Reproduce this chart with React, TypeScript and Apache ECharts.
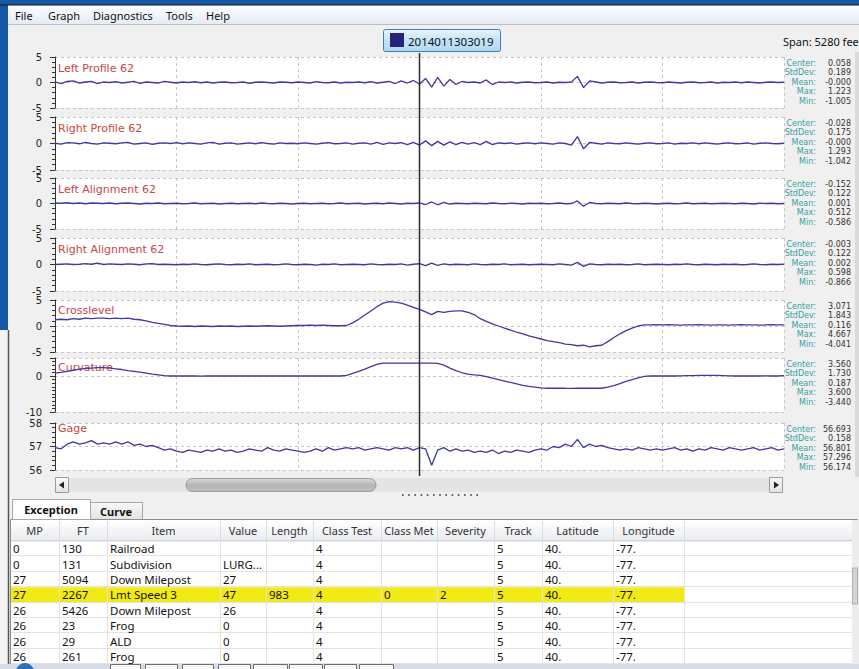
import React, { useEffect, useRef } from "react";
import * as echarts from "echarts";

// ---------------- DATA ----------------
const panelNames = ["Left Profile 62", "Right Profile 62", "Left Alignment 62", "Right Alignment 62", "Crosslevel", "Curvature", "Gage"];

const leftProfile = [
  0.1, -0.2, 0.2, 0.3, -0.1, 0.1, 0.2, -0.2, 0.1, 0.0,
  0.15, -0.1, 0.05, 0.2, -0.15, 0.1, 0.0, -0.1, 0.2, 0.05,
  -0.1, 0.1, 0.0, 0.15, -0.05, 0.1, -0.1, 0.05, 0.1, -0.05,
  0.0, 0.1, -0.15, 0.05, 0.1, 0.0, -0.1, 0.1, 0.05, -0.05,
  0.1, 0.0, -0.1, 0.15, 0.0, -0.05, 0.1, -0.1, 0.05, 0.0,
  0.1, -0.05, 0.15, -0.1, 0.05, 0.2, -0.2, 0.3, -0.1, 0.4,
  -0.3, 0.8, -0.9, 1.0, -0.7, 0.6, -0.4, 0.2, 0.0, 0.1,
  -0.1, 0.5, -0.4, 0.1, 0.0, 0.1, -0.1, 0.05, 0.1, -0.05,
  0.0, 0.1, -0.1, 0.05, 0.0, 0.1, 1.2, -1.0, 0.3, 0.1,
  -0.1, 0.05, 0.1, -0.05, 0.0, 0.1, -0.1, 0.05, 0.1, 0.0,
  -0.05, 0.1, 0.0, -0.1, 0.05, 0.1, -0.05, 0.0, 0.1, -0.1,
  0.05, 0.0, 0.1, -0.05, 0.1, 0.0, -0.1, 0.05, 0.1, 0.0,
  0.05,
];
const rightProfile = [
  0.05, -0.1, 0.15, 0.1, -0.05, 0.2, 0.0, -0.1, 0.1, 0.05,
  -0.05, 0.1, 0.2, -0.1, 0.0, 0.1, -0.15, 0.05, 0.1, 0.0,
  0.15, -0.05, 0.1, 0.0, -0.1, 0.1, 0.2, -0.1, 0.05, 0.1,
  -0.1, 0.0, 0.1, -0.05, 0.15, 0.0, -0.1, 0.1, 0.0, 0.05,
  -0.05, 0.1, 0.0, -0.1, 0.05, 0.15, -0.05, 0.0, 0.1, -0.1,
  0.05, 0.1, -0.1, 0.2, -0.15, 0.1, 0.0, 0.15, -0.2, 0.2,
  -0.3, 0.5, -0.4, 0.4, -0.3, 0.3, -0.2, 0.2, -0.1, 0.15,
  -0.2, 0.4, -0.2, 0.1, 0.0, 0.1, -0.1, 0.05, 0.1, -0.05,
  0.1, 0.0, -0.1, 0.1, 0.0, -0.3, 1.3, -1.0, 0.2, 0.05,
  -0.1, 0.1, 0.0, -0.05, 0.1, 0.0, -0.1, 0.05, 0.1, -0.05,
  0.0, 0.1, -0.1, 0.05, 0.0, 0.1, -0.05, 0.1, 0.0, -0.1,
  0.05, 0.1, -0.05, 0.0, 0.1, -0.1, 0.05, 0.1, 0.0, -0.05,
  0.05,
];
const leftAlignment = [
  0.1, 0.05, 0.15, 0.0, 0.1, -0.05, 0.1, 0.05, 0.0, 0.1,
  -0.05, 0.05, 0.1, 0.0, -0.1, 0.05, 0.0, 0.1, -0.05, 0.0,
  0.05, -0.05, 0.0, 0.1, -0.05, 0.0, 0.05, -0.1, 0.0, 0.05,
  -0.05, 0.0, 0.05, -0.05, 0.1, 0.0, -0.05, 0.05, 0.0, -0.1,
  0.0, 0.05, -0.05, 0.0, 0.05, -0.05, 0.0, 0.1, -0.05, 0.0,
  0.05, -0.1, 0.0, 0.05, -0.05, 0.1, 0.0, -0.1, 0.05, 0.0,
  0.1, -0.2, 0.3, -0.25, 0.2, -0.1, 0.05, 0.0, -0.05, 0.05,
  0.0, -0.05, 0.1, 0.0, -0.05, 0.05, 0.0, -0.1, 0.05, 0.0,
  0.05, -0.05, 0.0, 0.1, -0.05, 0.0, 0.5, -0.55, 0.2, 0.0,
  -0.05, 0.05, 0.0, -0.05, 0.1, 0.0, -0.05, 0.05, 0.0, -0.1,
  0.0, 0.05, -0.05, 0.0, 0.1, -0.05, 0.0, 0.05, -0.05, 0.0,
  0.05, 0.0, -0.05, 0.05, 0.0, -0.1, 0.05, 0.0, 0.05, -0.05,
  0.0,
];
const rightAlignment = [
  0.0, 0.05, 0.1, 0.0, 0.05, 0.15, 0.05, 0.25, 0.0, 0.1,
  0.05, 0.0, 0.1, 0.05, -0.05, 0.1, 0.15, 0.0, 0.05, 0.0,
  -0.05, 0.05, 0.0, 0.1, 0.0, -0.05, 0.05, 0.1, 0.0, -0.05,
  0.05, 0.0, 0.1, -0.05, 0.0, 0.05, -0.05, 0.0, 0.1, 0.0,
  -0.05, 0.05, 0.0, -0.1, 0.05, 0.0, 0.1, -0.05, 0.0, 0.05,
  0.0, -0.05, 0.1, 0.0, -0.05, 0.05, 0.0, 0.1, -0.1, 0.05,
  0.15, -0.2, 0.25, -0.15, 0.1, -0.05, 0.05, 0.0, -0.05, 0.1,
  0.0, -0.05, 0.05, 0.0, 0.1, -0.05, 0.0, 0.05, -0.05, 0.0,
  0.05, 0.0, -0.05, 0.1, 0.0, -0.1, 0.4, -0.35, 0.1, 0.0,
  -0.05, 0.05, 0.0, 0.05, -0.05, 0.0, 0.1, -0.05, 0.0, 0.05,
  0.0, -0.05, 0.05, 0.0, 0.1, 0.0, -0.05, 0.05, 0.0, -0.05,
  0.05, 0.0, 0.05, -0.05, 0.0, 0.1, 0.0, -0.05, 0.05, 0.0,
  0.05,
];
const crosslevel = [
  1.2, 1.3, 1.2, 1.4, 1.3, 1.5, 1.4, 1.5, 1.5, 1.4,
  1.5, 1.4, 1.5, 1.3, 1.2, 1.0, 0.7, 0.5, 0.3, 0.1,
  0.0, -0.05, 0.0, -0.1, 0.0, -0.05, -0.1, 0.0, -0.05, 0.0,
  -0.1, -0.05, 0.0, -0.05, 0.0, 0.05, 0.0, -0.05, 0.0, 0.05,
  0.1, 0.1, 0.15, 0.1, 0.15, 0.1, 0.05, 0.05, 0.1, 0.6,
  1.3, 2.1, 2.9, 3.7, 4.4, 4.7, 4.6, 4.4, 4.0, 3.6,
  3.2, 2.7, 2.2, 2.8, 2.6, 2.8, 2.9, 2.9, 2.6, 2.2,
  1.4, 0.9, 0.4, 0.0, -0.4, -0.8, -1.2, -1.5, -1.9, -2.2,
  -2.5, -2.8, -3.0, -3.2, -3.5, -3.6, -3.8, -3.7, -4.0, -3.8,
  -3.7, -3.0, -2.2, -1.5, -0.9, -0.4, 0.0, 0.2, 0.2, 0.25,
  0.2, 0.25, 0.2, 0.15, 0.2, 0.2, 0.25, 0.2, 0.15, 0.2,
  0.2, 0.15, 0.2, 0.25, 0.2, 0.2, 0.15, 0.2, 0.25, 0.2,
  0.2,
];
const curvature = [
  0.8, 1.0, 1.3, 1.6, 1.9, 2.1, 2.2, 2.3, 2.3, 2.2,
  2.0, 1.8, 1.5, 1.3, 1.1, 0.8, 0.5, 0.3, 0.1, 0.0,
  0.0, 0.05, 0.0, 0.0, -0.05, 0.0, 0.0, 0.05, 0.0, 0.0,
  0.0, 0.05, 0.0, 0.0, 0.0, 0.05, 0.0, 0.0, 0.0, 0.0,
  0.0, 0.05, 0.0, 0.0, 0.0, 0.0, 0.05, 0.0, 0.2, 0.7,
  1.3, 1.9, 2.6, 3.2, 3.6, 3.6, 3.55, 3.6, 3.6, 3.6,
  3.6, 3.6, 3.6, 3.5, 3.0, 2.2, 1.5, 0.9, 0.5, 0.3,
  0.2, -0.2, -0.6, -1.0, -1.4, -1.8, -2.2, -2.6, -2.9, -3.1,
  -3.3, -3.4, -3.4, -3.35, -3.4, -3.44, -3.4, -3.4, -3.35, -3.4,
  -3.4, -3.1, -2.7, -2.1, -1.5, -1.0, -0.5, -0.1, 0.0, 0.0,
  0.0, 0.05, 0.0, 0.05, 0.1, 0.1, 0.15, 0.2, 0.2, 0.15,
  0.1, 0.05, 0.0, 0.0, 0.05, 0.0, 0.0, 0.05, 0.0, 0.0,
  0.1,
];
const gage = [
  56.95, 56.9, 57.1, 57.2, 57.1, 57.15, 57.25, 57.1, 57.15, 57.1,
  57.2, 57.1, 57.2, 57.05, 57.1, 57.0, 57.05, 56.95, 56.85, 56.9,
  56.8, 56.75, 56.85, 56.8, 56.75, 56.85, 56.8, 56.9, 56.8, 56.85,
  56.75, 56.8, 56.9, 56.85, 56.8, 56.95, 56.85, 56.8, 56.9, 56.85,
  56.8, 56.75, 56.8, 56.9, 56.8, 56.95, 56.85, 56.9, 56.95, 56.9,
  56.95, 56.85, 56.9, 56.95, 56.9, 56.85, 56.95, 56.9, 56.95, 56.85,
  56.95, 56.9, 56.2, 56.85, 56.95, 56.8, 56.9, 56.8, 56.85, 56.75,
  56.8, 56.75, 56.85, 56.7, 56.8, 56.75, 56.85, 56.8, 56.75, 56.85,
  56.9, 56.85, 57.0, 56.95, 57.1, 57.0, 57.3, 56.95, 57.1, 57.0,
  57.05, 56.95, 56.9, 56.85, 56.9, 56.85, 56.95, 56.9, 56.85, 56.9,
  56.85, 56.9, 56.95, 56.85, 56.9, 56.8, 56.9, 56.85, 56.95, 56.9,
  56.85, 56.95, 56.9, 56.85, 56.9, 56.95, 56.85, 56.9, 56.95, 56.85,
  56.9,
];

const yMins = [-5, -5, -5, -5, -5, -10, 56];
const yMaxs = [5, 5, 5, 5, 5, 5, 58];
const yIntervals = [5, 5, 5, 5, 5, 10, 1];
const yMinorSplits = [5, 5, 5, 5, 5, 10, 5];
const hiddenMaxLabel = [false, false, false, false, false, true, false];
const xMin = 0;
const xMax = 120;
const xInterval = 20;
const cursorPosition = 60;

const statLabels = ["Center:", "StdDev:", "Mean:", "Max:", "Min:"];
const leftProfileStats = ["0.058", "0.189", "-0.000", "1.223", "-1.005"];
const rightProfileStats = ["-0.028", "0.175", "-0.000", "1.293", "-1.042"];
const leftAlignmentStats = ["-0.152", "0.122", "0.001", "0.512", "-0.586"];
const rightAlignmentStats = ["-0.003", "0.122", "0.002", "0.598", "-0.866"];
const crosslevelStats = ["3.071", "1.843", "0.116", "4.667", "-4.041"];
const curvatureStats = ["3.560", "1.730", "0.187", "3.600", "-3.440"];
const gageStats = ["56.693", "0.158", "56.801", "57.296", "56.174"];

const menuItems = ["File", "Graph", "Diagnostics", "Tools", "Help"];
const recordId = "2014011303019";
const spanText = "Span: 5280 feet";
const tabNames = ["Exception", "Curve"];

const tableHeaders = ["MP", "FT", "Item", "Value", "Length", "Class Test", "Class Met", "Severity", "Track", "Latitude", "Longitude"];
const colMP = ["0", "0", "27", "27", "26", "26", "26", "26"];
const colFT = ["130", "131", "5094", "2267", "5426", "23", "29", "261"];
const colItem = ["Railroad", "Subdivision", "Down Milepost", "Lmt Speed 3", "Down Milepost", "Frog", "ALD", "Frog"];
const colValue = ["", "LURG...", "27", "47", "26", "0", "0", "0"];
const colLength = ["", "", "", "983", "", "", "", ""];
const colClassTest = ["4", "4", "4", "4", "4", "4", "4", "4"];
const colClassMet = ["", "", "", "0", "", "", "", ""];
const colSeverity = ["", "", "", "2", "", "", "", ""];
const colTrack = ["5", "5", "5", "5", "5", "5", "5", "5"];
const colLatitude = ["40.", "40.", "40.", "40.", "40.", "40.", "40.", "40."];
const colLongitude = ["-77.", "-77.", "-77.", "-77.", "-77.", "-77.", "-77.", "-77."];
const highlightedRow = 3;

// ---------------- LAYOUT ----------------
const W = 859;
const H = 669;
const plotLeft = 55;
const plotRight = 784;
const panelTops = [57, 117, 178, 238, 300, 358, 423];
const panelHeights = [51, 53, 51, 53, 52, 54, 47];
const labelOffsets = [11, 11, 11, 11, 10, 9, 5];
const menuX = [15, 48, 93, 166, 206];
const colEdges = [10, 59, 107, 220, 266, 313, 381, 437, 494, 542, 613, 684];
const headerTop = 519;
const headerH = 22;
const rowTop0 = 541;
const rowH = 15.4;

const lineColor = "#3a3aa8";
const blue = "#1559a6";

function txt(text: string, x: number, y: number, o: any = {}) {
  const align = o.align || "left";
  return {
    type: "text",
    x,
    y,
    z: o.z ?? 20,
    silent: true,
    style: {
      text,
      fill: o.color || "#1a1a1a",
      fontSize: o.size || 11,
      fontFamily: o.family || "Noto Sans",
      fontWeight: o.weight || "normal",
      align,
      textAlign: align,
      verticalAlign: "middle",
      textVerticalAlign: "middle",
    },
  };
}
function rect(x: number, y: number, w: number, h: number, style: any, z = 10, r = 0) {
  return { type: "rect", z, silent: true, shape: { x, y, width: w, height: h, r }, style };
}
function line(x1: number, y1: number, x2: number, y2: number, style: any, z = 11) {
  return { type: "line", z, silent: true, shape: { x1, y1, x2, y2 }, style };
}
const vgrad = (stops: string[]) =>
  new echarts.graphic.LinearGradient(0, 0, 0, 1, stops.map((c, i) => ({ offset: i / (stops.length - 1), color: c })));

function buildGraphics() {
  const G: any[] = [];
  // desktop blue & window borders
  G.push(rect(0, 0, W, 5, { fill: blue }));
  G.push(line(0, 5, W, 5, { stroke: "#1b1b1b", lineWidth: 1 }));
  G.push(rect(0, 0, 8, 330, { fill: blue }));
  G.push(rect(0, 330, 8, H - 330, { fill: "#f4f4f4" }));
  G.push(line(8.5, 330, 8.5, H, { stroke: "#555", lineWidth: 1.5 }));
  // menu bar
  G.push(rect(8, 6, W - 8, 18, { fill: vgrad(["#fbfcfe", "#e6ebf4"]) }));
  G.push(line(8, 24.5, W, 24.5, { stroke: "#b9c0cc", lineWidth: 1 }));
  menuItems.forEach((m, i) => G.push(txt(m, menuX[i], 15, { size: 11, color: "#111" })));
  // record button
  G.push(rect(383.5, 29.5, 117, 22, { fill: vgrad(["#e8f5fd", "#c3e3f7", "#b0d8f2"]), stroke: "#3f7fb3", lineWidth: 1 }, 10, 2));
  G.push(rect(390, 33, 14, 14, { fill: "#25247a" }, 11));
  G.push(txt(recordId, 408, 41, { size: 11.5, color: "#111" }));
  G.push(txt(spanText, 783, 41, { size: 11, color: "#111" }));
  // right scroll strip
  G.push(rect(855, 52, 4, 425, { fill: "#dadada" }));
  // panel labels and stats
  const allStats = [leftProfileStats, rightProfileStats, leftAlignmentStats, rightAlignmentStats, crosslevelStats, curvatureStats, gageStats];
  panelNames.forEach((n, i) => {
    G.push(txt(n, 58, panelTops[i] + labelOffsets[i], { size: 11, family: "DejaVu Sans", color: "#c84646", z: 1 }));
    statLabels.forEach((l, k) => {
      const y = panelTops[i] + 6 + k * 9.5;
      G.push(txt(l, 816, y, { size: 8, family: "DejaVu Sans", color: "#35a0a0", align: "right" }));
      G.push(txt(allStats[i][k], 851, y, { size: 8, family: "DejaVu Sans", color: "#333", align: "right" }));
    });
  });
  // horizontal scrollbar
  G.push(rect(69, 478, 700, 14, { fill: "#e4e4e4" }));
  G.push(rect(55.5, 477.5, 13, 15, { fill: vgrad(["#fafafa", "#e2e2e2"]), stroke: "#9c9c9c", lineWidth: 1 }, 12));
  G.push({ type: "polygon", z: 13, silent: true, shape: { points: [[59, 485], [64, 481.5], [64, 488.5]] }, style: { fill: "#222" } });
  G.push(rect(769.5, 477.5, 13, 15, { fill: vgrad(["#fafafa", "#e2e2e2"]), stroke: "#9c9c9c", lineWidth: 1 }, 12));
  G.push({ type: "polygon", z: 13, silent: true, shape: { points: [[779, 485], [774, 481.5], [774, 488.5]] }, style: { fill: "#222" } });
  G.push(rect(186, 478.5, 190, 13, { fill: vgrad(["#dcdcdc", "#b4b4b4", "#c2c2c2"]), stroke: "#9a9a9a", lineWidth: 1 }, 12, 6.5));
  G.push(line(402, 495, 479, 495, { stroke: "#333", lineWidth: 1.6, lineDash: [1.6, 4.6] }));
  // tabs
  G.push(rect(90.5, 502.5, 52, 17, { fill: vgrad(["#f8f8f8", "#e3e3e3"]), stroke: "#a8a8a8", lineWidth: 1 }));
  G.push(rect(12.5, 499.5, 78, 20, { fill: "#ffffff", stroke: "#a8a8a8", lineWidth: 1 }, 11));
  G.push(txt(tabNames[0], 51, 509, { size: 11, weight: "bold", align: "center", color: "#111" }));
  G.push(txt(tabNames[1], 116, 511, { size: 11, weight: "bold", align: "center", color: "#111" }));
  // table
  G.push(rect(10.5, headerTop + 0.5, 847, H - headerTop, { fill: "#ffffff", stroke: "#8e8e8e", lineWidth: 1 }));
  G.push(rect(11, headerTop + 1, 841, headerH, { fill: vgrad(["#ffffff", "#f3f4f6", "#e9ebee"]) }, 11));
  G.push(line(11, rowTop0 - 0.5, 852, rowTop0 - 0.5, { stroke: "#d2d4d8", lineWidth: 1 }, 12));
  const cols = [colMP, colFT, colItem, colValue, colLength, colClassTest, colClassMet, colSeverity, colTrack, colLatitude, colLongitude];
  G.push(rect(colEdges[0] + 1, rowTop0 + highlightedRow * rowH, colEdges[colEdges.length - 1] - colEdges[0] - 1, rowH, { fill: "#f2ea14" }, 11));
  for (let r = 1; r <= colMP.length; r++) {
    const y = Math.round(rowTop0 + r * rowH) - 0.5;
    G.push(line(11, y, 852, y, { stroke: "#e3e3e3", lineWidth: 1 }, 12));
  }
  colEdges.forEach((x, i) => {
    if (i === 0) return;
    G.push(line(x + 0.5, headerTop + 2, x + 0.5, rowTop0, { stroke: "#d9dbdf", lineWidth: 1 }, 12));
    G.push(line(x + 0.5, rowTop0, x + 0.5, H, { stroke: "#e3e3e3", lineWidth: 1 }, 12));
  });
  tableHeaders.forEach((h, i) => {
    G.push(txt(h, (colEdges[i] + colEdges[i + 1]) / 2, headerTop + 11.5, { size: 11, color: "#333", align: "center" }));
  });
  cols.forEach((col, c) => {
    col.forEach((v, r) => {
      if (!v) return;
      G.push(txt(v, colEdges[c] + 3, rowTop0 + r * rowH + rowH / 2, { size: 11.5, color: "#111" }));
    });
  });
  // table vertical scrollbar
  G.push(rect(852, headerTop + 1, 6, H - headerTop, { fill: "#ececec" }, 12));
  G.push(rect(852.5, 568, 5, 36, { fill: "#d4d4d4", stroke: "#b0b0b0", lineWidth: 1 }, 13));
  // taskbar strip
  G.push(rect(0, 664, W, 5, { fill: "#d6dce6" }, 14));
  [[110, 140], [145, 177], [182, 213], [218, 250], [253, 287], [289, 322], [324, 356], [359, 393]].forEach(([a, b]) =>
    G.push(rect(a + 0.5, 664.5, b - a, 8, { fill: "#f6f6f6", stroke: "#6d6d6d", lineWidth: 1 }, 15))
  );
  G.push({ type: "circle", z: 15, silent: true, shape: { cx: 25, cy: 672, r: 9 }, style: { fill: "#2f6fb5" } });
  return G;
}

function buildOption() {
  const seriesValues = [leftProfile, rightProfile, leftAlignment, rightAlignment, crosslevel, curvature, gage];
  const grid: any[] = [];
  const xAxis: any[] = [];
  const yAxis: any[] = [];
  const series: any[] = [];
  seriesValues.forEach((vals, i) => {
    grid.push({
      left: plotLeft,
      width: plotRight - plotLeft,
      top: panelTops[i],
      height: panelHeights[i],
      show: true,
      backgroundColor: "#ffffff",
      borderWidth: 0,
      borderColor: "transparent",
    });
    xAxis.push({
      gridIndex: i,
      type: "value",
      min: xMin,
      max: xMax,
      interval: xInterval,
      axisLine: { show: false },
      axisTick: { show: false },
      axisLabel: { show: false },
      splitLine: { show: true, lineStyle: { type: [3, 3], color: "#c6c6c6", width: 1 } },
    });
    yAxis.push({
      gridIndex: i,
      type: "value",
      min: yMins[i],
      max: yMaxs[i],
      interval: yIntervals[i],
      offset: 3,
      axisLine: { show: true, lineStyle: { color: "#333", width: 1 } },
      axisTick: { show: true, length: 5, lineStyle: { color: "#333" } },
      minorTick: { show: true, splitNumber: yMinorSplits[i], length: 3, lineStyle: { color: "#333" } },
      axisLabel: {
        show: true,
        fontSize: 10,
        fontFamily: "DejaVu Sans",
        color: "#222",
        margin: 10,
        showMinLabel: true,
        showMaxLabel: true,
        formatter: (v: number) => (hiddenMaxLabel[i] && v === yMaxs[i] ? "" : String(v)),
      },
      splitLine: { show: true, lineStyle: { type: [3, 3], color: "#c6c6c6", width: 1 } },
    });
    series.push({
      type: "line",
      xAxisIndex: i,
      yAxisIndex: i,
      data: vals.map((v, j) => [j, v]),
      symbol: "none",
      showSymbol: false,
      z: 3,
      lineStyle: { color: lineColor, width: 1.3 },
    });
  });
  return {
    animation: false,
    backgroundColor: "#f0f0f0",
    grid,
    xAxis,
    yAxis,
    series,
    graphic: buildGraphics(),
  };
}

export default function App() {
  const ref = useRef<HTMLDivElement>(null);
  useEffect(() => {
    document.body.style.margin = "0";
    if (!ref.current) return;
    const chart = echarts.init(ref.current, null, { renderer: "svg" });
    chart.setOption(buildOption() as any);
    // cursor line placed through the x scale of the first panel
    const cx = chart.convertToPixel({ xAxisIndex: 0 }, cursorPosition) as number;
    const cursor = line(cx, 53, cx, 476, { stroke: "#2a2a2a", lineWidth: 1.5 }, 30);
    chart.setOption({ graphic: [...buildGraphics(), cursor] } as any);
    return () => chart.dispose();
  }, []);
  return <div ref={ref} style={{ width: W, height: H, overflow: "hidden" }} />;
}
